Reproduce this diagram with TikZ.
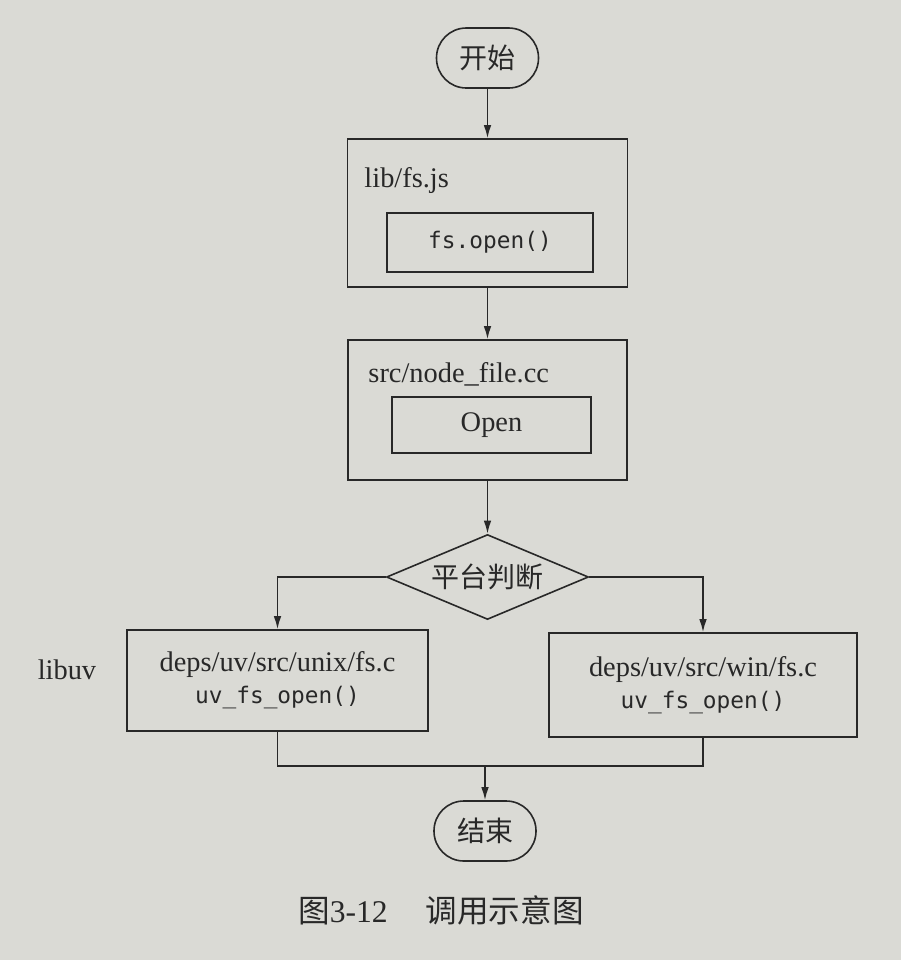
\documentclass[tikz,border=0pt]{standalone}
\usepackage{fontspec}
\setmainfont{Liberation Serif}
\setmonofont{DejaVu Sans Mono}
\newfontfamily\cjk{Noto Sans CJK SC}
\usetikzlibrary{arrows.meta,shapes.geometric,positioning}
\definecolor{paper}{RGB}{218,218,213}
\definecolor{ink}{RGB}{40,40,40}
\newcommand\codefont{\ttfamily\fontsize{11.4}{16}\selectfont}

\begin{document}
\begin{tikzpicture}[
    x = 0.5pt, y = -0.5pt, % one unit is one pixel of the page
    > = {Latex[length=6.5pt,width=3.8pt]}, % arrow head style
    line width = 0.8pt, % line style
    color = ink
    ]

    \tikzset{
    every node/.style = {font = \fontsize{14.2}{16}\selectfont},
    term/.style = {draw, rectangle, rounded corners = 14.9pt,
        minimum width = 51pt, minimum height = 30pt,
        font = \cjk\fontsize{14}{16}\selectfont},
    outer/.style = {draw, rectangle, inner sep = 0pt},
    inner/.style = {draw, rectangle, inner sep = 0pt},
    judge/.style = {draw, diamond, aspect = 2.4, inner sep = 0pt,
        minimum width = 101pt, minimum height = 42.5pt,
        font = \cjk\fontsize{14}{16}\selectfont},
    platform/.style = {draw, rectangle, inner sep = 0pt, align = center}
    }

    \fill[paper] (0,0) rectangle (901,960);
    \useasboundingbox (0,0) rectangle (901,960);

    \node[term] (start) at (487.5,58) {开始};

    \node[outer, minimum width = 140pt, minimum height = 74pt] (jsbox) at (487.5,213) {};
    \node[anchor = west] (jsname) at (357,181) {lib/fs.js};
    \node[inner, minimum width = 103pt, minimum height = 29.5pt] (jsopen) at (490,242.5) {\codefont fs.open()};

    \node[outer, minimum width = 139.5pt, minimum height = 70pt] (ccbox) at (487.5,410) {};
    \node[anchor = west] (ccname) at (361,374) {src/node\_file.cc};
    \node[inner, minimum width = 99.5pt, minimum height = 28pt] (ccopen) at (491.5,425) {Open};

    \node[judge] (judge) at (487.5,577) {平台判断};

    \node[platform, minimum width = 150.5pt, minimum height = 50.5pt] (unix) at (277.5,680.5)
        {deps/uv/src/unix/fs.c\\ {\codefont uv\_fs\_open()}};
    \node[platform, minimum width = 154pt, minimum height = 52pt] (win) at (703,685)
        {deps/uv/src/win/fs.c\\ {\codefont uv\_fs\_open()}};
    \node (libuv) at (67,670) {libuv};

    \coordinate (join) at (485,766);
    \node[term] (end) at (485,831) {结束};

    \node (caption) at (441,910) {\fontsize{15.8}{18}\selectfont{\cjk 图}3-12\hspace{19pt}{\cjk 调用示意图}};

    \draw[->] (start) -- (jsbox);
    \draw[->] (jsbox) -- (ccbox);
    \draw[->] (ccbox) -- (judge);
    \draw[->] (judge.west) -| (unix.north);
    \draw[->] (judge.east) -| (win.north);
    \draw (unix.south) |- (join) -| (win.south);
    \draw[->] (join) -- (end);
\end{tikzpicture}
\end{document}
